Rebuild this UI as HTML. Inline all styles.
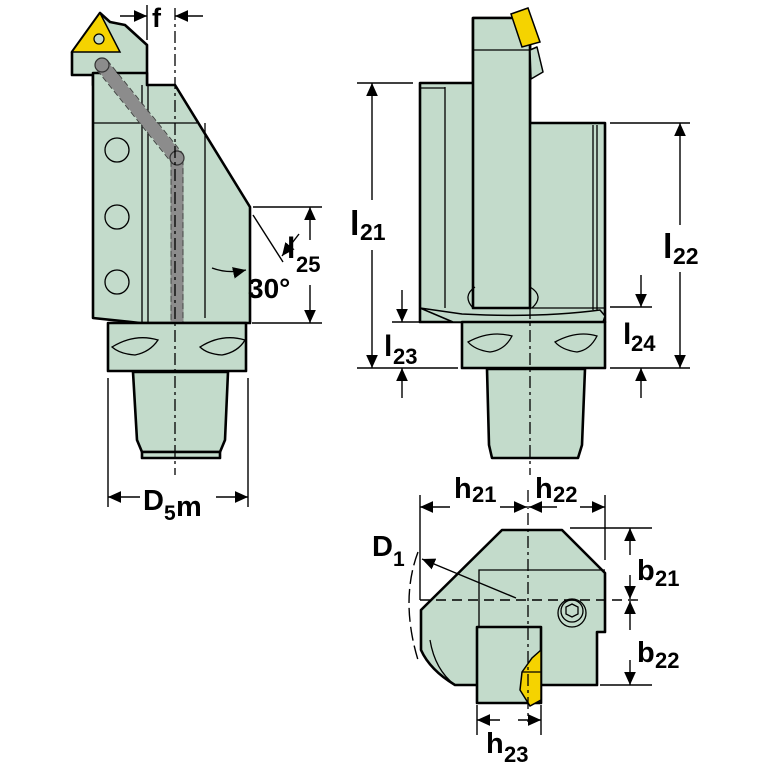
<!DOCTYPE html>
<html><head><meta charset="utf-8"><style>
html,body{margin:0;padding:0;background:#fff;}
svg{display:block;}
text{font-family:"Liberation Sans",Arial,sans-serif;font-weight:bold;fill:#000;}
.b{fill:#c3dbcb;stroke:#000;stroke-width:2.6;stroke-linejoin:round;}
.t{fill:none;stroke:#000;stroke-width:1.3;}
.d{fill:none;stroke:#000;stroke-width:1.4;}
.c{fill:none;stroke:#000;stroke-width:1.3;stroke-dasharray:12,4,3,4;}
.y{fill:#f5d300;stroke:#000;stroke-width:1.5;}
</style></head><body>
<svg width="767" height="767" viewBox="0 0 767 767" xmlns="http://www.w3.org/2000/svg">
<defs>
<marker id="a" viewBox="0 0 10 10" refX="10" refY="5" markerWidth="13" markerHeight="13" orient="auto-start-reverse" markerUnits="userSpaceOnUse"><path d="M0,0.5 L10,5 L0,9.5 z" fill="#000"/></marker>
</defs>

<!-- LEFT VIEW -->
<polygon class="b" points="72,52 72,75 93,75 93,85 147,85 147,45 125,25 110,22 100,13"/>
<polygon class="b" points="93,73 93,318 140,323 250,323 250,207 175,85 147,85 147,73"/>
<line class="t" x1="93" y1="123" x2="197" y2="123"/>
<line class="t" x1="142" y1="85" x2="142" y2="323"/>
<line class="t" x1="148" y1="85" x2="148" y2="323"/>
<line class="t" x1="205" y1="123" x2="205" y2="318"/>
<circle class="t" cx="117" cy="150" r="12"/>
<circle class="t" cx="117" cy="217" r="12"/>
<circle class="t" cx="117" cy="282" r="12"/>
<polyline points="102,65 177,158 177,323" fill="none" stroke="#8c8c8c" stroke-width="13" stroke-linejoin="round"/>
<polyline points="97,70 171,162 171,323" fill="none" stroke="#444" stroke-width="1" stroke-dasharray="6,3"/>
<polyline points="107,60 183,154 183,323" fill="none" stroke="#444" stroke-width="1" stroke-dasharray="6,3"/>
<circle cx="102" cy="65" r="7" fill="#8c8c8c" stroke="#333" stroke-width="1.2"/>
<circle cx="177" cy="158" r="7" fill="#8c8c8c" stroke="#333" stroke-width="1.2"/>
<polygon class="y" points="100,13 72,52 120,52"/>
<circle cx="99" cy="39" r="5" fill="#c3dbcb" stroke="#000" stroke-width="1.2"/>
<rect class="b" x="108" y="323" width="138" height="48"/>
<path class="t" d="M112,347 Q135,333 158,340 Q150,352 135,355 Q120,354 112,347 Z"/>
<path class="t" d="M200,347 Q222,333 245,340 Q238,352 222,355 Q207,354 200,347 Z"/>
<polygon class="b" points="133,372 228,372 225,440 220,452 142,452 137,440"/>
<rect class="b" x="142" y="452" width="78" height="6"/>
<line class="c" x1="175" y1="8" x2="175" y2="475"/>
<!-- f -->
<line class="d" x1="147" y1="5" x2="147" y2="40"/>
<line class="d" x1="120" y1="16" x2="147" y2="16" marker-end="url(#a)"/>
<line class="d" x1="203" y1="16" x2="175" y2="16" marker-end="url(#a)"/>
<text x="152" y="27" font-size="27">f</text>
<!-- l25 / 30 -->
<line class="d" x1="253" y1="207" x2="322" y2="207"/>
<line class="d" x1="252" y1="323" x2="322" y2="323"/>
<line class="d" x1="310" y1="240" x2="310" y2="207" marker-end="url(#a)"/>
<line class="d" x1="310" y1="285" x2="310" y2="323" marker-end="url(#a)"/>
<line class="d" x1="253" y1="215" x2="283" y2="262"/>
<line class="d" x1="299" y1="234" x2="282" y2="256" marker-end="url(#a)"/>
<path class="d" d="M212,268 Q228,274 246,270" marker-end="url(#a)"/>
<text x="287" y="258" font-size="30">l</text><text x="296" y="272" font-size="22">25</text>
<text x="248" y="298" font-size="28">30°</text>
<!-- D5m -->
<line class="d" x1="108" y1="378" x2="108" y2="507"/>
<line class="d" x1="248" y1="378" x2="248" y2="507"/>
<line class="d" x1="140" y1="497" x2="108" y2="497" marker-end="url(#a)"/>
<line class="d" x1="216" y1="497" x2="248" y2="497" marker-end="url(#a)"/>
<text x="143" y="510" font-size="29">D</text><text x="164" y="520" font-size="21">5</text><text x="176" y="516" font-size="29">m</text>

<!-- RIGHT VIEW -->
<polygon class="b" points="420,83 473,83 473,18 510,18 530,45 530,123 605,123 605,322 420,322"/>
<rect class="b" x="473" y="18" width="57" height="290"/>
<line class="t" x1="473" y1="50" x2="530" y2="50"/>
<polygon class="b" points="530,50 537,47 543,72 531,79" style="stroke-width:1.5"/>
<polygon class="y" points="511,14 528,8 540,42 522,47"/>
<line class="t" x1="445" y1="87" x2="445" y2="308"/>
<line class="t" x1="420" y1="88" x2="445" y2="88"/>
<line class="t" x1="593" y1="125" x2="593" y2="310"/>
<line class="t" x1="597" y1="125" x2="597" y2="310"/>
<path class="t" d="M473,308 Q462,296 475,287 M530,287 Q545,296 532,308"/>
<line class="t" x1="473" y1="308" x2="605" y2="308"/>
<path class="b" d="M420,308 L453,322 L603,322 L605,316 L600,310 Q540,318 462,314 Z" style="stroke-width:1.5"/>
<rect class="b" x="462" y="322" width="143" height="46"/>
<path class="t" d="M468,342 Q490,330 512,336 Q505,350 490,352 Q475,350 468,342 Z"/>
<path class="t" d="M555,342 Q577,330 597,336 Q590,350 577,352 Q562,350 555,342 Z"/>
<polygon class="b" points="487,369 585,369 582,445 578,458 492,458 489,445"/>
<line class="c" x1="530" y1="123" x2="530" y2="475"/>
<!-- l21 -->
<line class="d" x1="357" y1="83" x2="413" y2="83"/>
<line class="d" x1="357" y1="368" x2="458" y2="368"/>
<line class="d" x1="372" y1="200" x2="372" y2="83" marker-end="url(#a)"/>
<line class="d" x1="372" y1="250" x2="372" y2="368" marker-end="url(#a)"/>
<text x="350" y="235" font-size="34">l</text><text x="360" y="240" font-size="23">21</text>
<!-- l23 -->
<line class="d" x1="392" y1="322" x2="450" y2="322"/>
<line class="d" x1="402" y1="290" x2="402" y2="322" marker-end="url(#a)"/>
<line class="d" x1="402" y1="398" x2="402" y2="368" marker-end="url(#a)"/>
<text x="384" y="356" font-size="30">l</text><text x="393" y="364" font-size="22">23</text>
<!-- l22 -->
<line class="d" x1="610" y1="123" x2="690" y2="123"/>
<line class="d" x1="610" y1="368" x2="690" y2="368"/>
<line class="d" x1="680" y1="225" x2="680" y2="123" marker-end="url(#a)"/>
<line class="d" x1="680" y1="272" x2="680" y2="368" marker-end="url(#a)"/>
<text x="663" y="258" font-size="34">l</text><text x="673" y="264" font-size="23">22</text>
<!-- l24 -->
<line class="d" x1="610" y1="307" x2="652" y2="307"/>
<line class="d" x1="641" y1="275" x2="641" y2="307" marker-end="url(#a)"/>
<line class="d" x1="641" y1="398" x2="641" y2="368" marker-end="url(#a)"/>
<text x="623" y="344" font-size="30">l</text><text x="631" y="351" font-size="22">24</text>

<!-- BOTTOM VIEW -->
<path class="b" d="M421,610 L502,530 L562,530 L605,573 L605,632 L597,632 L597,685 L455,685 Q430,670 421,650 Z"/>
<path class="t" d="M430,640 Q435,670 455,685"/>
<polyline class="t" points="479,627 479,570 605,570"/>
<rect class="b" x="477" y="627" width="64" height="76"/>
<polygon class="y" points="522,672 532,658 541,650 541,700 530,706 520,690"/>
<line class="t" x1="522" y1="672" x2="541" y2="672"/>
<circle class="t" cx="572" cy="613" r="14"/>
<circle class="t" cx="572" cy="611" r="11"/>
<polygon class="t" points="572,604 578,607 578,614 572,617 566,614 566,607"/>
<line class="c" x1="528" y1="490" x2="528" y2="722"/>
<line class="d" x1="420" y1="600" x2="640" y2="600" stroke-dasharray="10,6"/>
<line class="d" x1="516" y1="598" x2="422" y2="559" marker-end="url(#a)"/>
<path class="d" d="M418,552 Q400,600 418,660" stroke-dasharray="14,5"/>
<text x="372" y="556" font-size="29">D</text><text x="393" y="566" font-size="21">1</text>
<!-- h21 h22 -->
<line class="d" x1="420" y1="495" x2="420" y2="600"/>
<line class="d" x1="605" y1="495" x2="605" y2="560"/>
<line class="d" x1="450" y1="507" x2="420" y2="507" marker-end="url(#a)"/>
<line class="d" x1="500" y1="507" x2="527" y2="507" marker-end="url(#a)"/>
<line class="d" x1="557" y1="507" x2="529" y2="507" marker-end="url(#a)"/>
<line class="d" x1="580" y1="507" x2="605" y2="507" marker-end="url(#a)"/>
<text x="454" y="498" font-size="29">h</text><text x="472" y="502" font-size="22">21</text>
<text x="535" y="498" font-size="29">h</text><text x="553" y="502" font-size="22">22</text>
<!-- b21 b22 -->
<line class="d" x1="570" y1="528" x2="652" y2="528"/>
<line class="d" x1="600" y1="685" x2="652" y2="685"/>
<line class="d" x1="630" y1="555" x2="630" y2="528" marker-end="url(#a)"/>
<line class="d" x1="630" y1="575" x2="630" y2="599" marker-end="url(#a)"/>
<line class="d" x1="630" y1="630" x2="630" y2="601" marker-end="url(#a)"/>
<line class="d" x1="630" y1="660" x2="630" y2="685" marker-end="url(#a)"/>
<text x="637" y="580" font-size="29">b</text><text x="655" y="586" font-size="22">21</text>
<text x="637" y="662" font-size="29">b</text><text x="655" y="668" font-size="22">22</text>
<!-- h23 -->
<line class="d" x1="477" y1="705" x2="477" y2="735"/>
<line class="d" x1="541" y1="705" x2="541" y2="735"/>
<line class="d" x1="500" y1="720" x2="477" y2="720" marker-end="url(#a)"/>
<line class="d" x1="518" y1="720" x2="541" y2="720" marker-end="url(#a)"/>
<text x="486" y="753" font-size="29">h</text><text x="504" y="762" font-size="22">23</text>
</svg>
</body></html>
